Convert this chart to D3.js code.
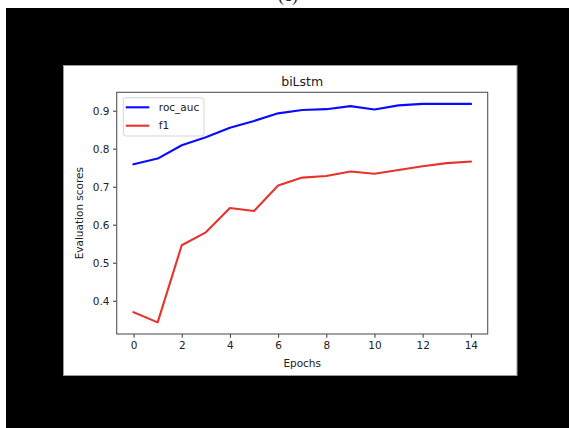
<!DOCTYPE html>
<html>
<head>
<meta charset="utf-8">
<script src="https://cdn.jsdelivr.net/npm/d3@7"></script>
<style>
  html, body { margin: 0; padding: 0; background: #fff; }
  svg { display: block; }
  text { font-family: "DejaVu Sans", sans-serif; fill: #222; }
</style>
</head>
<body>
<div class="canva"></div>
<script>
// values
const epochs = [0, 1, 2, 3, 4, 5, 6, 7, 8, 9, 10, 11, 12, 13, 14];
const rocAuc = [0.759, 0.774, 0.809, 0.830, 0.855, 0.873, 0.893, 0.902, 0.904, 0.912, 0.903, 0.914, 0.918, 0.918, 0.918];
const f1 = [0.370, 0.343, 0.546, 0.580, 0.644, 0.636, 0.703, 0.724, 0.728, 0.740, 0.734, 0.744, 0.754, 0.762, 0.766];
const xTicks = [0, 2, 4, 6, 8, 10, 12, 14];
const yTicks = [0.4, 0.5, 0.6, 0.7, 0.8, 0.9];
const seriesNames = ["roc_auc", "f1"];
const seriesColors = ["#0a0aff", "#e8332a"];

const W = 569, H = 428;
const svg = d3.select(".canva").append("svg")
    .attr("width", W)
    .attr("height", H);

// page background: white margin strip on top/left, black mat
svg.append("rect").attr("width", W).attr("height", H).attr("fill", "#fff");
svg.append("rect").attr("x", 6).attr("y", 8).attr("width", W - 6).attr("height", H - 8).attr("fill", "#000");

// cropped caption above
svg.append("text")
    .attr("x", 288).attr("y", 1)
    .attr("text-anchor", "middle")
    .style("font-family", "'Liberation Serif', serif")
    .style("font-size", "18px")
    .style("fill", "#222")
    .text("(c)");

// the figure (white)
svg.append("rect")
    .attr("x", 63.5).attr("y", 65.5)
    .attr("width", 453.5).attr("height", 310)
    .attr("fill", "#fff")
    .attr("stroke", "#9a9a9a")
    .attr("stroke-width", 1);

const plot = { left: 116.7, right: 487.7, top: 92.3, bottom: 334 };

const x = d3.scaleLinear().domain([-0.7, 14.7]).range([plot.left, plot.right]);
const y = d3.scaleLinear().domain([0.3124, 0.9484]).range([plot.bottom, plot.top]);

const g = svg.append("g");

// axes
const xAxis = g.append("g")
    .attr("transform", `translate(0,${plot.bottom})`)
    .call(d3.axisBottom(x).tickValues(xTicks).tickFormat(d3.format("d")).tickSize(3.7).tickPadding(3.5));
const yAxis = g.append("g")
    .attr("transform", `translate(${plot.left},0)`)
    .call(d3.axisLeft(y).tickValues(yTicks).tickFormat(d3.format(".1f")).tickSize(3.7).tickPadding(3.5));

[xAxis, yAxis].forEach(a => {
    a.select(".domain").remove();
    a.selectAll(".tick line").attr("stroke", "#333").attr("stroke-width", 1);
    a.selectAll(".tick text")
        .style("font-family", "'DejaVu Sans', sans-serif")
        .style("font-size", "10.5px")
        .attr("fill", "#333");
});

// frame
g.append("rect")
    .attr("x", plot.left).attr("y", plot.top)
    .attr("width", plot.right - plot.left)
    .attr("height", plot.bottom - plot.top)
    .attr("fill", "none")
    .attr("stroke", "#555")
    .attr("stroke-width", 1.1);

// lines
const line = d3.line().x((d, i) => x(epochs[i])).y(d => y(d));
[rocAuc, f1].forEach((vals, k) => {
    g.append("path")
        .datum(vals)
        .attr("d", line)
        .attr("fill", "none")
        .attr("stroke", seriesColors[k])
        .attr("stroke-width", 2.1)
        .attr("stroke-linejoin", "round")
        .attr("stroke-linecap", "square");
});

// title and axis labels
g.append("text")
    .attr("x", (plot.left + plot.right) / 2).attr("y", 86)
    .attr("text-anchor", "middle")
    .style("font-size", "12.5px")
    .text("biLstm");

g.append("text")
    .attr("x", (plot.left + plot.right) / 2).attr("y", 366.5)
    .attr("text-anchor", "middle")
    .style("font-size", "10.5px")
    .text("Epochs");

g.append("text")
    .attr("transform", `translate(82.5,${(plot.top + plot.bottom) / 2}) rotate(-90)`)
    .attr("text-anchor", "middle")
    .style("font-size", "10.5px")
    .text("Evaluation scores");

// legend
const legend = g.append("g").attr("transform", "translate(123.3,97.7)");
legend.append("rect")
    .attr("width", 80.7).attr("height", 38.3)
    .attr("rx", 2.5)
    .attr("fill", "#fff").attr("fill-opacity", 0.8)
    .attr("stroke", "#d5d5d5");

seriesNames.forEach((name, k) => {
    const ly = 9.6 + k * 18.4;
    legend.append("line")
        .attr("x1", 2.4).attr("x2", 26)
        .attr("y1", ly).attr("y2", ly)
        .attr("stroke", seriesColors[k])
        .attr("stroke-width", 2.1);
    legend.append("text")
        .attr("x", 35.5).attr("y", ly + 3.8)
        .style("font-size", "10.5px")
        .text(name);
});
</script>
</body>
</html>
